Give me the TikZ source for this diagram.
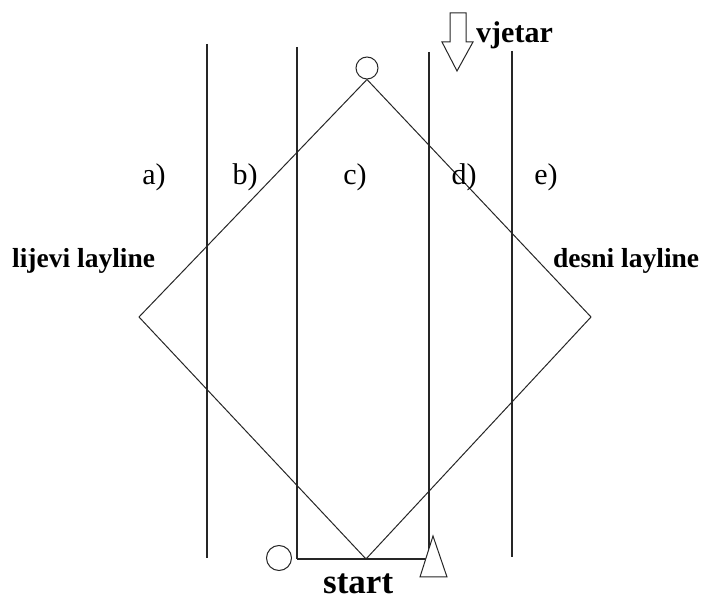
\documentclass[tikz,border=0pt]{standalone}
\usepackage{fontspec}
\setmainfont{Liberation Serif}
\begin{document}
\begin{tikzpicture}[x=1pt,y=-1pt,
  ln/.style={line width=1.1pt, black!85},
  thin/.style={line width=1pt, black!85},
  lab/.style={inner sep=0pt, anchor=base, font=\fontsize{30}{30}\selectfont},
  blab/.style={inner sep=0pt, anchor=base west, font=\bfseries\fontsize{27.5}{27.5}\selectfont},
  buoy/.style={circle, draw, thin, minimum size=22pt, inner sep=0pt}]
\useasboundingbox (0,0) rectangle (705,601);
% lanes
\coordinate (l1t) at (207,44); \coordinate (l1b) at (207,558);
\coordinate (l2t) at (297,47); \coordinate (l2b) at (297,559);
\coordinate (l3t) at (429,52); \coordinate (l3b) at (429,559);
\coordinate (l4t) at (512,51); \coordinate (l4b) at (512,557);
\draw[ln] (l1t) -- (l1b);
\draw[ln] (l2t) -- (l2b);
\draw[ln] (l3t) -- (l3b);
\draw[ln] (l4t) -- (l4b);
% start line
\draw[ln] (l2b) -- (l3b);
% buoys
\node[buoy] (topbuoy) at (367,68) {};
\node[buoy, minimum size=25pt] (pin) at (279,558) {};
% diamond
\coordinate (dl) at (139,317);
\coordinate (dr) at (591,317);
\coordinate (db) at (366,559);
\draw[thin] (topbuoy.south) -- (dl) -- (db) -- (dr) -- cycle;
% committee boat triangle
\draw[thin, fill=white] (433,536) -- (447,577) -- (420,577) -- cycle;
% wind arrow
\draw[thin, fill=white] (450,13) -- (466,13) -- (466,42) -- (473,42) -- (457,71) -- (442,42) -- (450,42) -- cycle;
% labels
\node[blab, font=\bfseries\fontsize{30}{30}\selectfont] (vjetar) at (476,43) {vjetar};
\node[blab] (lijevi) at (12,268) {lijevi layline};
\node[blab] (desni) at (553,268) {desni layline};
\node[blab, font=\bfseries\fontsize{35}{35}\selectfont] (start) at (323,594) {start};
\node[lab] (a) at (154,185) {a)};
\node[lab] (b) at (245,185) {b)};
\node[lab] (c) at (355,185) {c)};
\node[lab] (d) at (464,185) {d)};
\node[lab] (e) at (546,185) {e)};
\end{tikzpicture}
\end{document}
